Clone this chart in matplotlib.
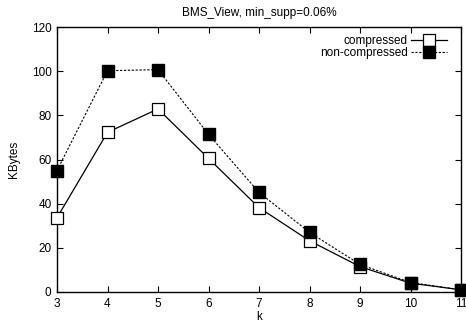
import matplotlib
matplotlib.use("Agg")
import matplotlib.pyplot as plt

k = [3, 4, 5, 6, 7, 8, 9, 10, 11]
compressed = [33.6, 72.3, 82.9, 60.5, 38.2, 23.2, 11.5, 4.0, 1.0]
non_compressed = [55.0, 100.2, 100.7, 71.4, 45.1, 27.0, 12.5, 4.3, 1.0]
xticks = [3, 4, 5, 6, 7, 8, 9, 10, 11]
yticks = [0, 20, 40, 60, 80, 100, 120]

plt.rcParams['font.family'] = ['Liberation Sans', 'DejaVu Sans']
plt.rcParams['font.size'] = 8.5

fig = plt.figure(figsize=(4.66, 3.30), dpi=100)
ax = fig.add_axes([57/466, 38/330, (461-57)/466, (292-27)/330])

ax.plot(k, compressed, color='black', lw=0.9, linestyle='-', marker='s',
        markersize=9.2, markerfacecolor='white', markeredgecolor='black',
        markeredgewidth=0.9, label='compressed', clip_on=False, zorder=3)
ax.plot(k, non_compressed, color='black', lw=0.8, linestyle=(0, (2, 1.5)), marker='s',
        markersize=9.2, markerfacecolor='black', markeredgecolor='black',
        label='non-compressed', clip_on=False, zorder=4)

ax.set_xlim(3, 11)
ax.set_ylim(0, 120)
ax.set_xticks(xticks)
ax.set_yticks(yticks)
ax.tick_params(direction='in', length=4, width=0.8, top=True, right=True, pad=4)
for s in ax.spines.values():
    s.set_linewidth(1.0)

ax.set_title('BMS_View, min_supp=0.06%', fontsize=8.5, pad=8)
ax.set_xlabel('k', labelpad=1)
ax.set_ylabel('KBytes', labelpad=8)

leg = ax.legend(loc='upper right', bbox_to_anchor=(1 - 8/404, 1 - 2/265),
                frameon=False, markerfirst=False,
                handlelength=3.0, borderaxespad=0.55, labelspacing=0.0,
                handletextpad=0.3, borderpad=0.0)

fig.savefig('out.png', dpi=100)
